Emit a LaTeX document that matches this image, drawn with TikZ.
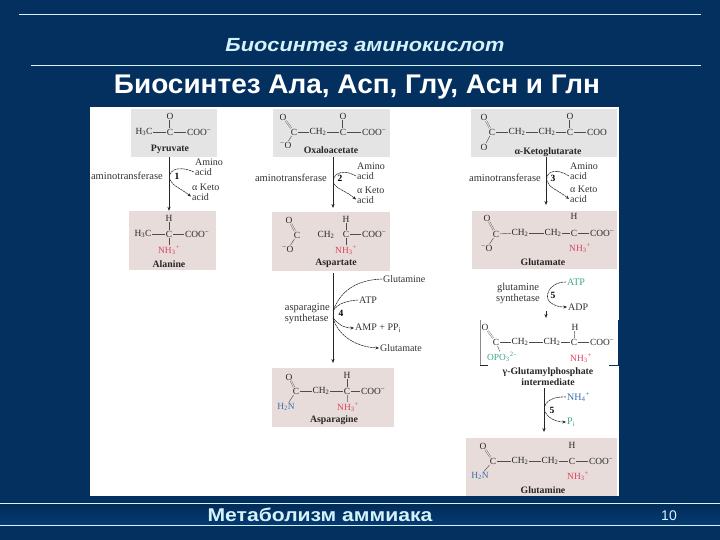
\documentclass[tikz,border=0pt]{standalone}
\usepackage{fontspec}
\setmainfont{Liberation Serif}
\newfontfamily\arialf{Liberation Sans}
\usetikzlibrary{arrows.meta}
\definecolor{bgblue}{HTML}{03305F}
\definecolor{bandtop}{HTML}{022B57}
\definecolor{bandbot}{HTML}{053A73}
\definecolor{paleblue}{HTML}{D4F2FA}
\definecolor{greybox}{HTML}{E4E4E4}
\definecolor{pinkbox}{HTML}{E7DCDA}
\definecolor{redamine}{HTML}{D8455F}
\definecolor{tealtxt}{HTML}{3FA58F}
\definecolor{bluetxt}{HTML}{3E6FA8}
\newcommand{\atm}[4][]{\node[atom,#1] (#2) at (#3) {#4};}
\newcommand{\chemtwo}{\textsubscript{2}}
\newcommand{\chemthree}{\textsubscript{3}}
\newcommand{\nhplus}{NH\textsubscript{3}\textsuperscript{+}}
\newcommand{\coom}{COO\textsuperscript{--}}
\tikzset{
  x=1pt,y=-1pt,
  atom/.style={inner sep=0.6pt,font=\fontsize{9.4}{9.4}\selectfont,text=black!85},
  name label/.style={inner sep=0pt,font=\fontsize{9.8}{9.8}\selectfont\bfseries,text=black!85},
  enz/.style={inner sep=0pt,align=center,font=\fontsize{10.5}{11}\selectfont,text=black!80},
  side/.style={inner sep=1pt,align=left,font=\fontsize{10}{9.6}\selectfont,text=black!80},
  digit/.style={inner sep=0pt,font=\fontsize{9.5}{9.5}\selectfont\bfseries,text=black},
  gbox/.style={fill=greybox,inner sep=0pt,minimum width=#1},
  pbox/.style={fill=pinkbox,inner sep=0pt,minimum width=#1},
  bond/.style={draw=black!70,line width=.45pt},
  dbond/.style={draw=black!70,line width=.35pt,double=white,double distance=1pt},
  main/.style={draw=black!85,line width=.6pt,-{Stealth[length=4pt,width=3.2pt]}},
  curv/.style={draw=black!85,line width=.55pt,dash pattern=on 2.5pt off .6pt,-{Stealth[length=3.5pt,width=3pt]}},
  rulew/.style={draw=paleblue,line width=.9pt}
}
\begin{document}
\begin{tikzpicture}
\useasboundingbox (0,0) rectangle (720,540);
\fill[bgblue] (0,0) rectangle (720,540);
\shade[top color=bandtop,bottom color=bandbot] (0,503) rectangle (720,525);
\coordinate (r1a) at (19,14); \coordinate (r1b) at (701,14);
\coordinate (r2a) at (31,65); \coordinate (r2b) at (701,65);
\coordinate (r3a) at (0,503); \coordinate (r3b) at (720,503);
\coordinate (r4a) at (0,525); \coordinate (r4b) at (720,525);
\draw[rulew] (r1a)--(r1b); \draw[rulew] (r2a)--(r2b);
\draw[rulew] (r3a)--(r3b); \draw[rulew] (r4a)--(r4b);
\node[text=paleblue,inner sep=0pt,xscale=1.145,transform shape,font=\arialf\fontsize{19}{19}\selectfont\bfseries\itshape] (title) at (365,45.5) {Биосинтез аминокислот};
\node[text=white,inner sep=0pt,xscale=1.035,transform shape,font=\arialf\fontsize{27}{27}\selectfont\bfseries] (subtitle) at (357,87) {Биосинтез Ала, Асп, Глу, Асн и Глн};
\node[text=paleblue,inner sep=0pt,xscale=1.143,transform shape,font=\arialf\fontsize{18.5}{18.5}\selectfont\bfseries] (foot) at (320,515) {Метаболизм аммиака};
\node[text=paleblue,inner sep=0pt,font=\arialf\fontsize{14}{14}\selectfont] (num) at (669,516) {10};
% panel
\fill[white] (90,107) rectangle (618.5,496);
% boxes
\node[gbox=86pt,minimum height=48pt] (pyr) at (174,133) {};
\node[pbox=87pt,minimum height=59pt] (ala) at (172.5,240.5) {};
\node[gbox=117pt,minimum height=48pt] (oxa) at (331.5,133) {};
\node[pbox=118pt,minimum height=59pt] (asp) at (331,241.5) {};
\node[gbox=146pt,minimum height=48pt] (akg) at (544,133) {};
\node[pbox=145pt,minimum height=58pt] (glu) at (544.5,240) {};
\node[pbox=122pt,minimum height=59pt] (asn) at (333,397.5) {};
\node[pbox=151pt,minimum height=58pt] (gln) at (541.5,467) {};
% Pyruvate
\atm{p1}{170,116}{O}\atm{p2}{170,132}{C}\atm{p3}{144,132}{H\chemthree C}\atm{p4}{199,132}{\coom}
\node[name label] (p5) at (170,149) {Pyruvate};
\draw[dbond,double=greybox] (p1)--(p2); \draw[bond] (p3)--(p2); \draw[bond] (p2)--(p4);
% Alanine
\atm{a1}{169,218}{H}\atm{a2}{169,234}{C}\atm{a3}{143,234}{H\chemthree C}\atm{a4}{197,234}{\coom}
\atm[text=redamine]{a5}{169,250}{\nhplus}
\node[name label] (a6) at (169,264) {Alanine};
\draw[bond] (a1)--(a2); \draw[bond] (a3)--(a2); \draw[bond] (a2)--(a4); \draw[bond] (a2)--(a5);
% step 1
\draw[main] (pyr.south -| a2) -- (ala.north -| a2);
\node[enz,anchor=east] (en1) at (163,176) {aminotransferase};
\node[digit] (d1) at (177,176) {1};
\node[side,anchor=west] (s1a) at (194,167.5) {Amino\\acid};
\node[side,anchor=west] (s1b) at (191,192) {α Keto\\acid};
\draw[curv] ([yshift=-4.5pt]s1a.west) .. controls (176,164) and (167,172) .. (170,180) .. controls (173,186) and (180,188) .. ([yshift=-4.5pt]s1b.west);
% Oxaloacetate
\atm{o1}{283,117}{O}\atm{o2}{294,132}{C}\atm{o3}{286,145}{\textsuperscript{--}O}\atm{o4}{318,132}{CH\chemtwo}\atm{o5}{343,132}{C}\atm{o6}{343,116}{O}\atm{o7}{374,132}{\coom}
\node[name label] (o8) at (331,150) {Oxaloacetate};
\draw[dbond,double=greybox] (o1)--(o2); \draw[bond] (o3)--(o2); \draw[bond] (o2)--(o4); \draw[bond] (o4)--(o5); \draw[dbond,double=greybox] (o6)--(o5); \draw[bond] (o5)--(o7);
% Aspartate
\atm{b1}{289,220}{O}\atm{b2}{297,235}{C}\atm{b3}{288,249}{\textsuperscript{--}O}\atm{b4}{326,235}{CH\chemtwo}\atm{b5}{346,234}{C}\atm{b6}{346,219}{H}\atm{b7}{374,234}{\coom}
\atm[text=redamine]{b8}{346,250}{\nhplus}
\node[name label] (b9) at (336,263) {Aspartate};
\draw[dbond,double=pinkbox] (b1)--(b2); \draw[bond] (b3)--(b2); \draw[bond] (b6)--(b5); \draw[bond] (b5)--(b8); \draw[bond] (b5)--(b7);
% step 2
\draw[main] (333,157) -- (333,208);
\node[enz,anchor=east] (en2) at (327,178) {aminotransferase};
\node[digit] (d2) at (340,178) {2};
\node[side,anchor=west] (s2a) at (356,171.5) {Amino\\acid};
\node[side,anchor=west] (s2b) at (356,195) {α Keto\\acid};
\draw[curv] ([yshift=-4.5pt]s2a.west) .. controls (340,167) and (331,176) .. (334,184) .. controls (337,189) and (346,191) .. ([yshift=-4.5pt]s2b.west);
% alpha-KG
\atm{k1}{484,117}{O}\atm{k2}{492,132}{C}\atm{k3}{484,147}{O}\atm{k4}{517,132}{CH\chemtwo}\atm{k5}{547,132}{CH\chemtwo}\atm{k6}{570,132}{C}\atm{k7}{570,116}{O}\atm{k8}{597,132}{COO}
\node[name label] (k9) at (548,152) {α-Ketoglutarate};
\draw[dbond,double=greybox] (k1)--(k2); \draw[bond] (k3)--(k2); \draw[bond] (k2)--(k4); \draw[bond] (k4)--(k5); \draw[bond] (k5)--(k6); \draw[dbond,double=greybox] (k7)--(k6); \draw[bond] (k6)--(k8);
% Glutamate
\atm{g1}{487,218}{O}\atm{g2}{496,234}{C}\atm{g3}{487,248}{\textsuperscript{--}O}\atm{g4}{520,233}{CH\chemtwo}\atm{g5}{553,233}{CH\chemtwo}\atm{g6}{574,233}{C}\atm{g7}{574,216}{H}\atm{g8}{602,233}{\coom}
\atm[text=redamine]{g9}{580,248}{\nhplus}
\node[name label] (g10) at (543,262) {Glutamate};
\draw[dbond,double=pinkbox] (g1)--(g2); \draw[bond] (g3)--(g2); \draw[bond] (g2)--(g4); \draw[bond] (g4)--(g5); \draw[bond] (g5)--(g6); \draw[bond] (g6)--(g8);
% step 3
\draw[main] (546,157) -- (546,205);
\node[enz,anchor=east] (en3) at (541,178) {aminotransferase};
\node[digit] (d3) at (553,178) {3};
\node[side,anchor=west] (s3a) at (569,171.5) {Amino\\acid};
\node[side,anchor=west] (s3b) at (569,194.5) {α Keto\\acid};
\draw[curv] ([yshift=-4.5pt]s3a.west) .. controls (553,166) and (545,174) .. (547,181) .. controls (549,188) and (558,190) .. ([yshift=-4.5pt]s3b.west);
% Step 4
\draw[main] (333,273) -- (333,363);
\node[enz,anchor=east,align=left] (en4) at (330,314) {asparagine\\synthetase};
\node[digit] (d4) at (341,313) {4};
\node[side,anchor=west] (s4a) at (382,279) {Glutamine};
\node[side,anchor=west] (s4b) at (358,300) {ATP};
\node[side,anchor=west] (s4c) at (354,328) {AMP + PP\textsubscript{i}};
\node[side,anchor=west] (s4d) at (379,348) {Glutamate};
\coordinate (j4a) at (333,311);
\coordinate (j4b) at (333,318);
\draw[curv,-] (s4a.west) .. controls (355,280) and (340,292) .. (j4a);
\draw[curv,-] (s4b.west) .. controls (347,301) and (338,303) .. (j4a);
\draw[curv] (j4b) .. controls (337,323) and (343,328) .. (s4c.west);
\draw[curv] (j4b) .. controls (338,335) and (355,347) .. (s4d.west);
% Asparagine
\atm{n1}{289,377}{O}\atm{n2}{296,391}{C}\atm[text=bluetxt]{n3}{286,407}{H\chemtwo N}\atm{n4}{321,391}{CH\chemtwo}\atm{n5}{347,391}{C}\atm{n6}{347,375}{H}\atm{n7}{373,391}{\coom}
\atm[text=redamine]{n8}{348,407}{\nhplus}
\node[name label] (n9) at (334,420) {Asparagine};
\draw[dbond,double=pinkbox] (n1)--(n2); \draw[bond] (n3)--(n2); \draw[bond] (n2)--(n4); \draw[bond] (n4)--(n5); \draw[bond] (n6)--(n5); \draw[bond] (n5)--(n7); \draw[bond] (n5)--(n8);
% Step 5a
\node[enz] (en5) at (518,293.5) {glutamine\\synthetase};
\node[digit] (d5) at (553,295) {5};
\node[side,anchor=west,text=tealtxt] (s5a) at (566,282) {ATP};
\node[side,anchor=west] (s5b) at (567,307) {ADP};
\draw[curv] (s5a.west) .. controls (548,282) and (544,298) .. (550,302) .. controls (554,306) and (560,307) .. (s5b.west);
\coordinate (st5a) at (546,311); \coordinate (st5b) at (546,318);
\draw[main] (st5a)--(st5b);
% Intermediate
\coordinate (bl1) at (480,320); \coordinate (bl2) at (480,365); \coordinate (bl3) at (488,365);
\coordinate (br1) at (618,320); \coordinate (br2) at (618,365); \coordinate (br3) at (609,365);
\draw[black!45,line width=.5pt] (bl1)--(bl2);
\draw[black!85,line width=.6pt] (bl2)--(bl3);
\draw[bgblue,line width=.9pt] (br1)--(br2)--(br3);
\atm{t1}{485,327}{O}\atm{t2}{496,342}{C}\atm[text=tealtxt]{t3}{502,357}{OPO\textsubscript{3}\textsuperscript{2--}}\atm{t4}{520,342}{CH\chemtwo}\atm{t5}{552,342}{CH\chemtwo}\atm{t6}{574,342}{C}\atm{t7}{575,327}{H}\atm{t8}{602,342}{\coom}
\atm[text=redamine]{t9}{581,358}{\nhplus}
\node[name label,align=center,font=\fontsize{9.8}{11}\selectfont\bfseries] (t10) at (548,376.5) {γ-Glutamylphosphate\\intermediate};
\draw[dbond] (t1)--(t2); \draw[bond] (t3)--(t2); \draw[bond] (t2)--(t4); \draw[bond] (t4)--(t5); \draw[bond] (t5)--(t6); \draw[bond] (t7)--(t6); \draw[bond] (t6)--(t8);
% Step 5b
\draw[main] (544,388) -- (544,432);
\node[digit] (d6) at (552,410) {5};
\node[side,anchor=west,text=bluetxt] (s6a) at (566,397) {NH\textsubscript{4}\textsuperscript{+}};
\node[side,anchor=west,text=tealtxt] (s6b) at (566,422) {P\textsubscript{i}};
\draw[curv] (s6a.west) .. controls (549,396) and (542,405) .. (545,412) .. controls (548,418) and (556,422) .. (s6b.west);
% Glutamine
\atm{q1}{483,446}{O}\atm{q2}{493,461}{C}\atm[text=bluetxt]{q3}{480,476}{H\chemtwo N}\atm{q4}{520,461}{CH\chemtwo}\atm{q5}{550,461}{CH\chemtwo}\atm{q6}{572,461}{C}\atm{q7}{572,445}{H}\atm{q8}{601,461}{\coom}
\atm[text=redamine]{q9}{578,476}{\nhplus}
\node[name label] (q10) at (543,490) {Glutamine};
\draw[dbond,double=pinkbox] (q1)--(q2); \draw[bond] (q3)--(q2); \draw[bond] (q2)--(q4); \draw[bond] (q4)--(q5); \draw[bond] (q5)--(q6); \draw[bond] (q6)--(q8);
\end{tikzpicture}
\end{document}
